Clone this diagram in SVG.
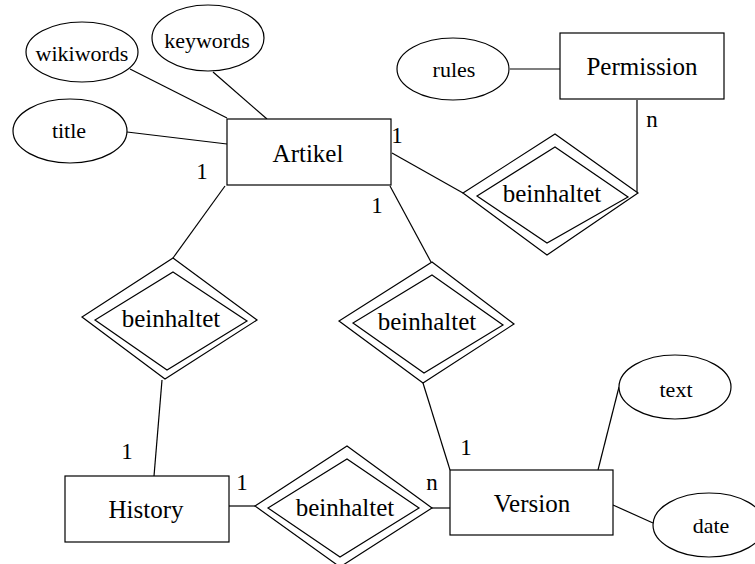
<svg xmlns="http://www.w3.org/2000/svg" width="755" height="564" viewBox="0 0 755 564">
<style>
.s{fill:#fff;stroke:#000;stroke-width:1.2}
.c line{stroke:#000;stroke-width:1.2}
text{font-family:'Liberation Serif','Times New Roman','DejaVu Serif',serif;fill:#000;text-anchor:middle}
.e{font-size:25px}
.a{font-size:22px}
.l{font-size:23px}
</style>
<rect width="755" height="564" fill="#fff"/>
<g class="c" id="connectors">
<line x1="130" y1="69" x2="227" y2="118"/>
<line x1="213" y1="72" x2="267" y2="119"/>
<line x1="127" y1="132" x2="227" y2="144"/>
<line x1="510" y1="69" x2="560" y2="69"/>
<line x1="637" y1="100" x2="637" y2="193"/>
<line x1="392" y1="153" x2="463" y2="193"/>
<line x1="225" y1="186" x2="173" y2="258"/>
<line x1="390" y1="186" x2="431" y2="262"/>
<line x1="162" y1="380" x2="154" y2="476"/>
<line x1="423" y1="383" x2="450" y2="470"/>
<line x1="229" y1="506" x2="255" y2="506"/>
<line x1="432" y1="508" x2="450" y2="508"/>
<line x1="598" y1="470" x2="619" y2="387"/>
<line x1="613" y1="505" x2="653" y2="523"/>
</g>
<g font-family="Liberation Serif, Times New Roman, serif">
<g id="wikiwords"><ellipse class="s" cx="82" cy="52" rx="56" ry="30"/><text class="a" x="82" y="61">wikiwords</text></g>
<g id="keywords"><ellipse class="s" cx="208" cy="38" rx="56" ry="33"/><text class="a" x="207" y="48">keywords</text></g>
<g id="title"><ellipse class="s" cx="70" cy="131" rx="57" ry="32"/><text class="a" x="69" y="138">title</text></g>
<g id="rules"><ellipse class="s" cx="453" cy="69" rx="56" ry="31"/><text class="a" x="454" y="77">rules</text></g>
<g id="text"><ellipse class="s" cx="675" cy="387" rx="56" ry="32"/><text class="a" x="676" y="397">text</text></g>
<g id="date"><ellipse class="s" cx="709" cy="525" rx="56" ry="32"/><text class="a" x="711" y="533">date</text></g>
<g id="Artikel"><rect class="s" x="227" y="119" width="164" height="66"/><text class="e" x="308" y="162">Artikel</text></g>
<g id="Permission"><rect class="s" x="560" y="33" width="164" height="66"/><text class="e" x="642" y="75">Permission</text></g>
<g id="History"><rect class="s" x="65" y="476" width="164" height="66"/><text class="e" x="146" y="518">History</text></g>
<g id="Version"><rect class="s" x="450" y="470" width="163" height="65"/><text class="e" x="532" y="512">Version</text></g>
<g id="rel_permission">
<polygon class="s" points="463,193 555,134 638,193 547,255"/>
<polygon class="s" points="477,196 555,147 628,197 547,243"/>
<text class="e" x="552" y="202">beinhaltet</text>
</g>
<g id="rel_history">
<polygon class="s" points="173,258 257,320 165,379 82,317"/>
<polygon class="s" points="173,272 247,321 167,370 95,320"/>
<text class="e" x="171" y="327">beinhaltet</text>
</g>
<g id="rel_version">
<polygon class="s" points="432,262 514,324 423,383 339,321"/>
<polygon class="s" points="432,275 503,325 424,373 353,323"/>
<text class="e" x="427" y="330">beinhaltet</text>
</g>
<g id="rel_history_version">
<polygon class="s" points="255,506 347,446 432,508 340,567"/>
<polygon class="s" points="268,508 347,459 419,508 340,557"/>
<text class="e" x="345" y="516">beinhaltet</text>
</g>
<g id="labels">
<text class="l" x="202" y="179">1</text>
<text class="l" x="397" y="143">1</text>
<text class="l" x="652" y="127">n</text>
<text class="l" x="377" y="213">1</text>
<text class="l" x="127" y="459">1</text>
<text class="l" x="242" y="490">1</text>
<text class="l" x="432" y="490">n</text>
<text class="l" x="466" y="455">1</text>
</g>
</g>
</svg>
